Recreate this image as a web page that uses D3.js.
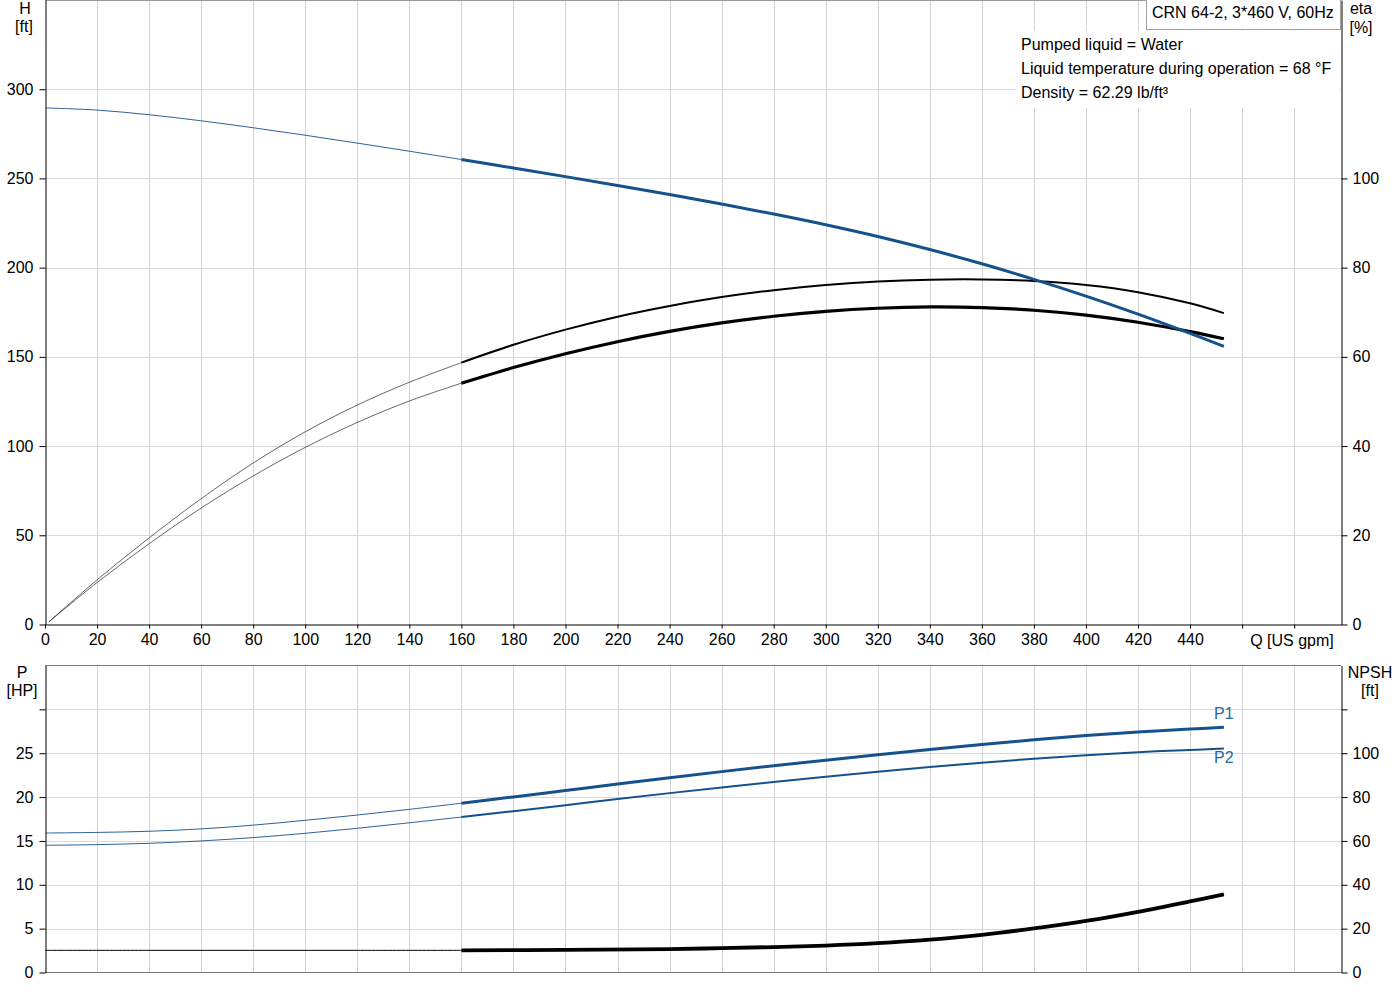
<!DOCTYPE html>
<html>
<head>
<meta charset="utf-8">
<script src="https://cdn.jsdelivr.net/npm/d3@7"></script>
<style>
  body { margin: 0; background: #fff; }
  text { font-family: "Liberation Sans", Arial, sans-serif; }
</style>
</head>
<body>
<script>
// values
const qMain = [0, 20, 40, 60, 80, 100, 120, 140, 160, 180, 200, 220, 240, 260, 280, 300, 320, 340, 360, 380, 400, 420, 440, 453];
const head = [289.5, 288.3, 285.7, 282.3, 278.4, 274.2, 269.8, 265.25, 260.6, 255.85, 251.0, 246.05, 240.95, 235.65, 230.05, 224.05, 217.45, 210.15, 202.15, 193.45, 184.05, 173.95, 163.15, 155.85];

const qEta = [1.5, 20, 40, 60, 80, 100, 120, 140, 160, 180, 200, 220, 240, 260, 280, 300, 320, 340, 360, 380, 400, 420, 440, 453];
const etaPump = [0.6, 10.0, 19.4, 28.2, 36.2, 43.2, 49.2, 54.3, 58.7, 62.7, 66.1, 69.0, 71.4, 73.4, 74.95, 76.1, 76.9, 77.3, 77.35, 77.0, 76.1, 74.5, 72.0, 69.8];
const etaTotal = [0.6, 9.4, 18.1, 26.1, 33.3, 39.7, 45.3, 50.1, 54.1, 57.6, 60.7, 63.4, 65.7, 67.6, 69.1, 70.2, 70.9, 71.2, 71.05, 70.45, 69.35, 67.75, 65.65, 64.05];

const p1 = [15.9, 15.97, 16.1, 16.37, 16.8, 17.35, 17.95, 18.6, 19.3, 20.02, 20.75, 21.48, 22.2, 22.9, 23.57, 24.21, 24.83, 25.43, 26.0, 26.53, 27.01, 27.42, 27.75, 27.95];
const p2 = [14.5, 14.58, 14.73, 15.0, 15.38, 15.87, 16.44, 17.07, 17.72, 18.39, 19.08, 19.77, 20.45, 21.1, 21.73, 22.33, 22.9, 23.43, 23.92, 24.37, 24.78, 25.12, 25.38, 25.53];

const qNpsh = [0, 40, 80, 120, 160, 200, 240, 260, 280, 300, 320, 340, 360, 380, 400, 420, 440, 453];
const npsh = [10.1, 10.1, 10.1, 10.1, 10.1, 10.3, 10.7, 11.1, 11.6, 12.3, 13.4, 15.0, 17.2, 20.1, 23.5, 27.7, 32.4, 35.6];

const qTicks = d3.range(0, 481, 20);
const hTicks = [0, 50, 100, 150, 200, 250, 300];
const etaTicks = [0, 20, 40, 60, 80, 100];
const pTicks = [0, 5, 10, 15, 20, 25, 30];
const npshTicks = [0, 20, 40, 60, 80, 100, 120];

const infoLines = ["Pumped liquid = Water", "Liquid temperature during operation = 68 °F", "Density = 62.29 lb/ft³"];
const title = "CRN 64-2, 3*460 V, 60Hz";

const blue = "#15518c";
const gridColor = "#d2d2d2";
const font = '"Liberation Sans", Arial, sans-serif';

function pumpChart() {
  const width = 1400, height = 1000;
  const left = 45, right = 1341;

  const svg = d3.select("body").append("svg")
    .attr("width", width)
    .attr("height", height);

  const x = d3.scaleLinear().domain([0, 498]).range([left, right]);
  const yH = d3.scaleLinear().domain([0, 350]).range([624.5, 0]);
  const yEta = d3.scaleLinear().domain([0, 140]).range([624.5, 0]);
  const yP = d3.scaleLinear().domain([0, 35]).range([972.5, 665.5]);
  const yN = d3.scaleLinear().domain([0, 140]).range([972.5, 665.5]);

  // grid
  const grid = svg.append("g");
  qTicks.filter(d => d > 0).forEach(q => {
    const xx = Math.round(x(q)) + 0.5;
    grid.append("line").attr("x1", xx).attr("x2", xx).attr("y1", 0).attr("y2", 624)
      .attr("stroke", gridColor);
    grid.append("line").attr("x1", xx).attr("x2", xx).attr("y1", 666).attr("y2", 972)
      .attr("stroke", gridColor);
  });
  hTicks.filter(d => d > 0).forEach(h => {
    const yy = Math.round(yH(h)) + 0.5;
    grid.append("line").attr("x1", left).attr("x2", right).attr("y1", yy).attr("y2", yy)
      .attr("stroke", "#d9d9d9");
  });
  pTicks.filter(d => d > 0).forEach(p => {
    const yy = Math.round(yP(p)) + 0.5;
    grid.append("line").attr("x1", left).attr("x2", right).attr("y1", yy).attr("y2", yy)
      .attr("stroke", "#d9d9d9");
  });

  // frame lines
  svg.append("line").attr("x1", left).attr("x2", right).attr("y1", 0.5).attr("y2", 0.5)
    .attr("stroke", "#999");
  svg.append("line").attr("x1", left).attr("x2", right).attr("y1", 665.5).attr("y2", 665.5)
    .attr("stroke", "#777");
  svg.append("line").attr("x1", left).attr("x2", right).attr("y1", 972.5).attr("y2", 972.5)
    .attr("stroke", "#777");

  // white panel behind the liquid info
  svg.append("rect").attr("x", 1017).attr("y", 31).attr("width", 323).attr("height", 77)
    .attr("fill", "#fff");

  function styleAxis(g) {
    g.select(".domain").attr("stroke", "#000");
    g.selectAll(".tick line").attr("stroke", "#000");
    g.selectAll("text").attr("font-size", 16).attr("font-family", font).attr("fill", "#000");
  }

  // top axes
  svg.append("g")
    .attr("transform", "translate(0,624.5)")
    .call(d3.axisBottom(x).tickValues(qTicks).tickSize(4).tickSizeOuter(0).tickPadding(5)
      .tickFormat(d => d <= 440 ? d : ""))
    .call(styleAxis);
  svg.append("g")
    .attr("transform", `translate(${left + 0.5},0)`)
    .call(d3.axisLeft(yH).tickValues(hTicks).tickSize(6).tickSizeOuter(0).tickPadding(6))
    .call(styleAxis);
  svg.append("g")
    .attr("transform", `translate(${right + 0.5},0)`)
    .call(d3.axisRight(yEta).tickValues(etaTicks).tickSize(6).tickSizeOuter(0).tickPadding(5))
    .call(styleAxis);

  // bottom axes
  svg.append("g")
    .attr("transform", `translate(${left + 0.5},0)`)
    .call(d3.axisLeft(yP).tickValues(pTicks).tickSize(6).tickSizeOuter(0).tickPadding(6)
      .tickFormat(d => d < 30 ? d : ""))
    .call(styleAxis);
  svg.append("g")
    .attr("transform", `translate(${right + 0.5},0)`)
    .call(d3.axisRight(yN).tickValues(npshTicks).tickSize(6).tickSizeOuter(0).tickPadding(5)
      .tickFormat(d => d < 120 ? d : ""))
    .call(styleAxis);

  // axis titles
  const titles = [
    ["H", 25, 8], ["[ft]", 24, 26],
    ["eta", 1361, 8], ["[%]", 1361, 27],
    ["Q [US gpm]", 1292, 640],
    ["P", 22, 672], ["[HP]", 22, 690],
    ["NPSH", 1370, 672], ["[ft]", 1370, 690]
  ];
  svg.selectAll("text.axtitle")
    .data(titles)
    .enter()
    .append("text")
      .attr("class", "axtitle")
      .attr("x", d => d[1])
      .attr("y", d => d[2])
      .attr("dy", "0.35em")
      .attr("text-anchor", "middle")
      .attr("font-size", 16)
      .attr("fill", "#000")
      .text(d => d[0]);

  // curves: thin below 160 gpm, heavy above
  function drawCurve(qs, vs, yScale, color, thinW, thickW, thinOpacity) {
    const pts = qs.map((q, i) => [q, vs[i]]);
    const line = d3.line()
      .x(d => x(d[0]))
      .y(d => yScale(d[1]))
      .curve(d3.curveCatmullRom);
    svg.append("path")
      .attr("d", line(pts.filter(d => d[0] <= 160)))
      .attr("fill", "none")
      .attr("stroke", color)
      .attr("stroke-opacity", thinOpacity)
      .attr("stroke-width", thinW);
    svg.append("path")
      .attr("d", line(pts.filter(d => d[0] >= 160)))
      .attr("fill", "none")
      .attr("stroke", color)
      .attr("stroke-width", thickW);
  }

  drawCurve(qEta, etaPump, yEta, "#000", 0.8, 2, 0.75);
  drawCurve(qEta, etaTotal, yEta, "#000", 0.8, 3.2, 0.75);
  drawCurve(qMain, head, yH, blue, 1, 3, 0.9);
  drawCurve(qMain, p1, yP, blue, 1, 3, 0.9);
  drawCurve(qMain, p2, yP, blue, 1, 2, 0.9);
  drawCurve(qNpsh, npsh, yN, "#000", 1, 3.8, 1);

  // P1 / P2 labels at curve ends
  const lastQ = qMain[qMain.length - 1];
  svg.append("text").attr("x", x(lastQ)).attr("y", yP(p1[p1.length - 1]) - 14)
    .attr("dy", "0.35em").attr("text-anchor", "middle")
    .attr("font-size", 16).attr("fill", "#2a66a3").text("P1");
  svg.append("text").attr("x", x(lastQ)).attr("y", yP(p2[p2.length - 1]) + 9)
    .attr("dy", "0.35em").attr("text-anchor", "middle")
    .attr("font-size", 16).attr("fill", "#2a66a3").text("P2");

  // info text
  svg.selectAll("text.info")
    .data(infoLines)
    .enter()
    .append("text")
      .attr("class", "info")
      .attr("x", 1021)
      .attr("y", (d, i) => 44 + i * 24)
      .attr("dy", "0.35em")
      .attr("font-size", 16)
      .attr("fill", "#000")
      .text(d => d);

  // title box
  svg.append("rect")
    .attr("x", 1146.5).attr("y", -1).attr("width", 194).attr("height", 30.5)
    .attr("fill", "#fff").attr("stroke", "#a0a0a0");
  svg.append("text")
    .attr("x", 1152).attr("y", 12).attr("dy", "0.35em")
    .attr("font-size", 16).attr("fill", "#000")
    .text(title);
}

pumpChart();
</script>
</body>
</html>
